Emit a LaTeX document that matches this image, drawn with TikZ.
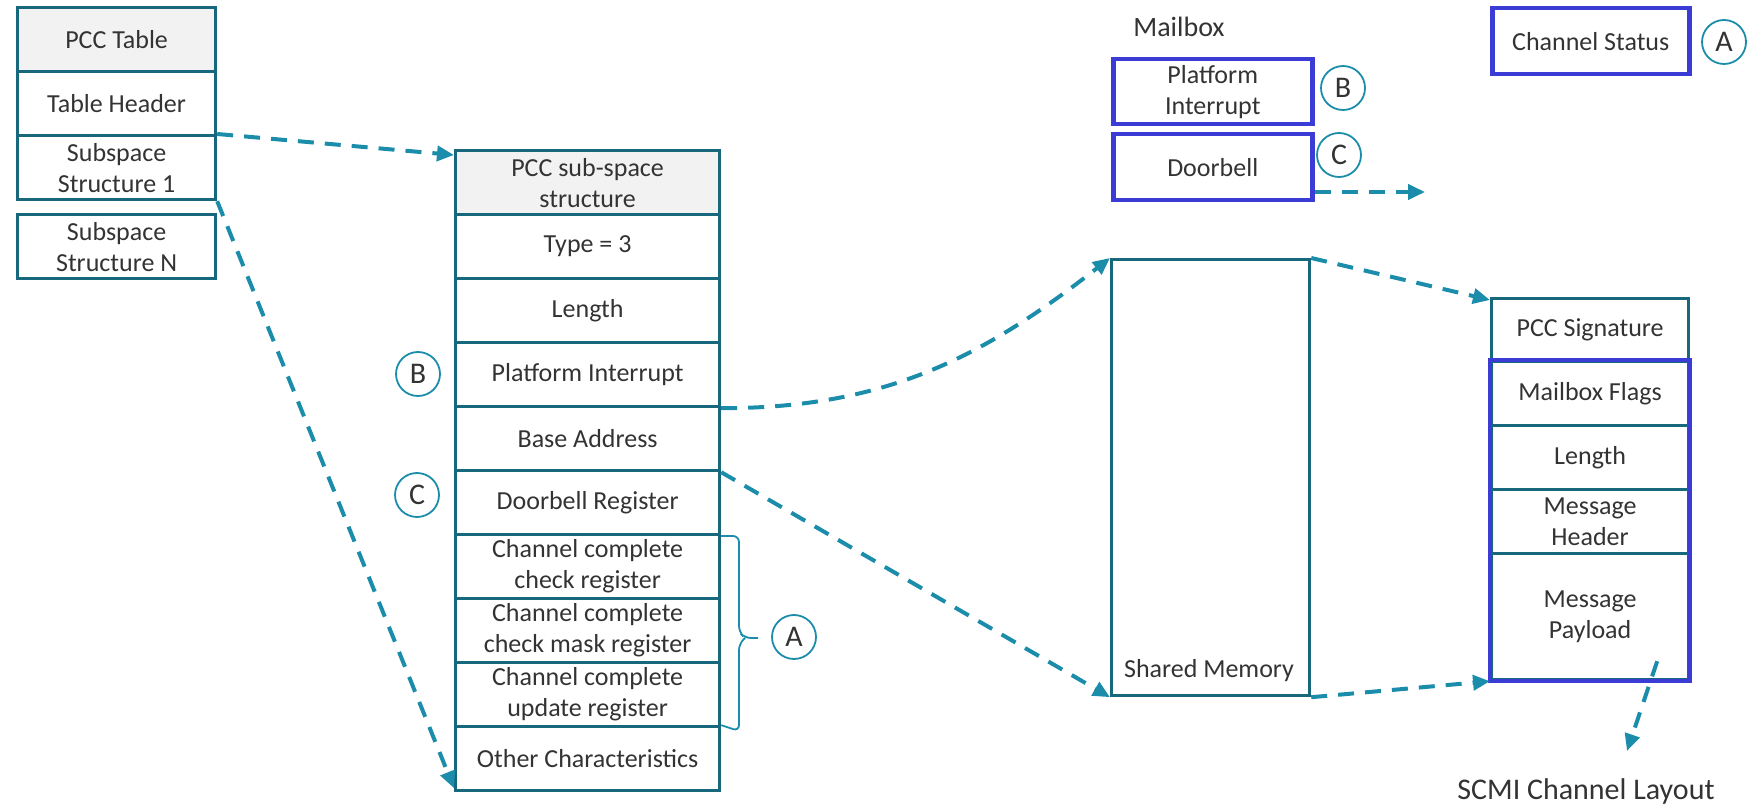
\documentclass[tikz,border=0pt]{standalone}
\usepackage{fontspec}
\setmainfont{Carlito}
\usetikzlibrary{arrows.meta}
\definecolor{frameteal}{HTML}{17677D}
\definecolor{linkteal}{HTML}{1B8DAA}
\definecolor{mboxblue}{HTML}{3B3BD6}
\definecolor{ink}{HTML}{333333}
\definecolor{headfill}{HTML}{F2F2F2}

\begin{document}
\begin{tikzpicture}[x=1pt,y=-1pt,
  cell/.style={draw=frameteal, line width=3.2pt, anchor=north west, inner sep=0pt,
    align=center, text=ink, font=\fontsize{26}{31}\selectfont},
  lcol/.style={cell, minimum width=198, minimum height=64},
  scol/.style={cell, minimum width=264, minimum height=64},
  rcol/.style={cell, minimum width=197, minimum height=64},
  mbcell/.style={cell, draw=mboxblue, line width=4.5pt},
  badge/.style={circle, draw=linkteal, line width=1.8pt, minimum size=44, inner sep=0pt,
    text=ink, font=\fontsize{30}{30}\selectfont},
  plain/.style={text=ink, inner sep=0pt},
  dashlink/.style={draw=linkteal, line width=4pt, dash pattern=on 16pt off 11pt,
    -{Triangle[length=17pt,width=15pt]}},
  bracket/.style={draw=linkteal, line width=1.8pt, rounded corners=6pt}
]
\useasboundingbox (0,0) rectangle (1764,810);

% PCC table
\node[lcol, fill=headfill] (pcctab) at (16,6) {PCC Table};
\node[lcol] (thead) at (16,70) {Table Header};
\node[lcol] (sub1) at (16,134) {Subspace\\Structure 1};
\node[lcol] (subN) at (16,213) {Subspace\\Structure N};

% PCC sub-space structure
\node[scol, fill=headfill] (sshead) at (454,149) {PCC sub-space\\structure};
\node[scol] (stype) at (454,213) {Type = 3};
\node[scol] (slen) at (454,277) {Length};
\node[scol] (spi) at (454,341) {Platform Interrupt};
\node[scol] (sbase) at (454,405) {Base Address};
\node[scol] (sdoor) at (454,469) {Doorbell Register};
\node[scol] (scheck) at (454,533) {Channel complete\\check register};
\node[scol] (smask) at (454,597) {Channel complete\\check mask register};
\node[scol] (supd) at (454,661) {Channel complete\\update register};
\node[scol] (sother) at (454,725) {Other Characteristics};

\node[badge] (bleft) at (418,374) {B};
\node[badge] (cleft) at (417,495) {C};

% bracket over the three channel-complete registers
\draw[bracket] ([yshift=-3pt]scheck.north east) -- (739,536) -- (739,632) -- (745,638) -- (758,638);
\draw[bracket] ([yshift=3pt]supd.south east) -- (739,731) -- (739,644) -- (745,638);
\node[badge] (aleft) at (794,637) {A};

% Mailbox
\node[plain, font=\fontsize{28}{30}\selectfont] (mbtitle) at (1179,27) {Mailbox};
\node[mbcell, minimum width=199, minimum height=65] (mbpi) at (1111,57) {Platform\\Interrupt};
\node[mbcell, minimum width=199, minimum height=66] (mbdoor) at (1111,132) {Doorbell};
\node[badge] (bright) at (1343,88) {B};
\node[badge] (cright) at (1339,155) {C};
\coordinate (dbtip) at (1425,192);

\node[mbcell, minimum width=197, minimum height=66] (chstat) at (1490,6) {Channel Status};
\node[badge] (aright) at (1724,42) {A};

% Shared memory
\node[cell, minimum width=198, minimum height=436] (shm) at (1110,258) {};
\node[plain, font=\fontsize{26}{30}\selectfont] (shmlabel) at (1209,671) {Shared Memory};

% SCMI channel layout
\node[rcol, minimum height=63] (psig) at (1490,297) {PCC Signature};
\node[rcol] (mflags) at (1490,360) {Mailbox Flags};
\node[rcol] (mlen) at (1490,424) {Length};
\node[rcol] (mhead) at (1490,488) {Message\\Header};
\node[rcol, minimum height=126] (mpay) at (1490,552) {Message\\Payload};
\draw[draw=mboxblue, line width=4.5pt] (mflags.north west) rectangle (mpay.south east);
\node[plain, font=\fontsize{30}{32}\selectfont] (scmi) at (1586,791) {SCMI Channel Layout};
\coordinate (scmitip) at (1627,751);

% connectors
\draw[dashlink] (sub1.north east) -- ([yshift=-6pt]sshead.north west);
\draw[dashlink] (sub1.south east) -- ([yshift=4pt]sother.south west);
\draw[dashlink] (spi.south east) to[out=0,in=218] (shm.north west);
\draw[dashlink] (sbase.south east) -- (shm.south west);
\draw[dashlink] (shm.north east) -- ([yshift=-3pt]psig.north west);
\draw[dashlink] (shm.south east) -- (mpay.south west);
\draw[dashlink] ([xshift=-33pt,yshift=20pt]mpay.south east) -- (scmitip);
\draw[dashlink] (mbdoor.south east |- dbtip) -- (dbtip);
\end{tikzpicture}
\end{document}
